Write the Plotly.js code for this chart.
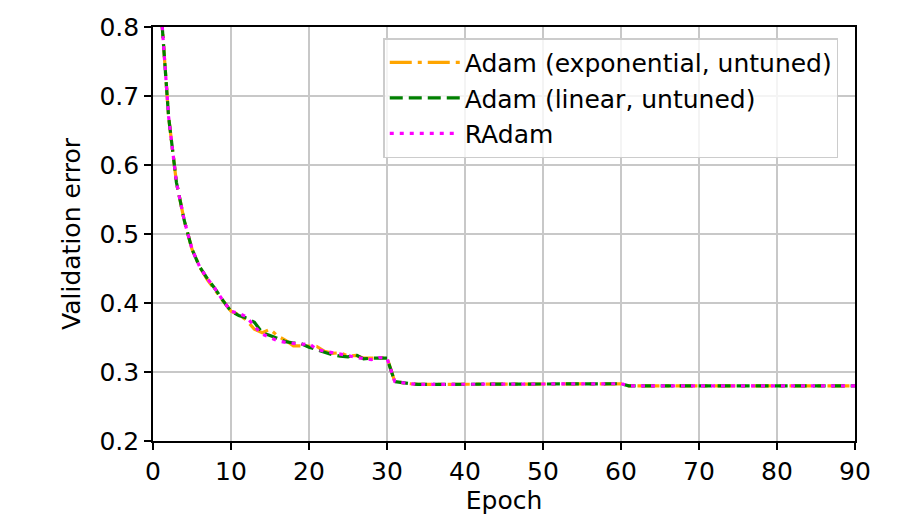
<!DOCTYPE html>
<html>
<head>
<meta charset="utf-8">
<script src="https://cdn.plot.ly/plotly-3.0.1.min.js"></script>
<style>html,body{margin:0;padding:0;background:#fff;}#chart{width:900px;height:525px;}</style>
</head>
<body>
<div id="chart"></div>
<script>
const epochs = [];
for (let i = 1; i <= 90; i++) epochs.push(i);

// epochs 34..60
const flatA = [0.282,0.282,0.282,0.282,0.282,0.282,0.282,0.282,0.282,0.282,0.282,0.282,0.282,0.282,0.282,0.282,0.282,0.282,0.282,0.282,0.282,0.282,0.282,0.282,0.282,0.282,0.283];
// epochs 61..90
const flatB = [0.280,0.280,0.280,0.280,0.280,0.280,0.280,0.280,0.280,0.280,0.280,0.280,0.280,0.280,0.280,0.280,0.280,0.280,0.280,0.280,0.280,0.280,0.280,0.280,0.280,0.280,0.280,0.280,0.280,0.280];

// epochs 1..33
const adamExpHead = [0.83,0.67,0.575,0.52,0.478,0.452,0.433,0.418,0.403,0.388,0.383,0.375,0.362,0.357,0.362,0.352,0.346,0.338,0.338,0.337,0.337,0.330,0.327,0.328,0.323,0.324,0.320,0.320,0.320,0.321,0.286,0.284,0.283];
const adamLinHead = [0.83,0.67,0.575,0.52,0.478,0.452,0.435,0.420,0.403,0.388,0.382,0.378,0.372,0.357,0.353,0.348,0.344,0.342,0.341,0.336,0.332,0.329,0.325,0.323,0.322,0.325,0.319,0.320,0.320,0.320,0.286,0.284,0.283];
const radamHead = [0.83,0.67,0.575,0.52,0.478,0.452,0.435,0.420,0.403,0.388,0.385,0.380,0.366,0.355,0.350,0.345,0.343,0.341,0.340,0.341,0.333,0.330,0.328,0.327,0.324,0.321,0.320,0.318,0.321,0.320,0.286,0.284,0.283];

const adamExp = adamExpHead.concat(flatA, flatB);
const adamLin = adamLinHead.concat(flatA, flatB);
const radam = radamHead.concat(flatA, flatB);

const names = ["Adam (exponential, untuned)", "Adam (linear, untuned)", "RAdam"];

const lw = 3.2;
const traces = [
  {x: epochs, y: adamExp, name: names[0], mode: "lines", line: {color: "orange", dash: "22px,6px,4px,6px", width: lw}},
  {x: epochs, y: adamLin, name: names[1], mode: "lines", line: {color: "green", dash: "13px,6px", width: lw}},
  {x: epochs, y: radam, name: names[2], mode: "lines", line: {color: "magenta", dash: "4px,6px", width: lw}}
];

const fsz = 25;
const axisCommon = {
  showline: true, mirror: true, linecolor: "#000", linewidth: 1.8,
  ticks: "outside", ticklen: 7, tickwidth: 1.6, tickcolor: "#000",
  showgrid: true, gridcolor: "#c8c8c8", gridwidth: 1.5,
  zeroline: false, tickfont: {family: "DejaVu Sans", size: fsz, color: "#000"}
};

const layout = {
  width: 900, height: 525,
  margin: {l: 153, r: 45, t: 27, b: 84},
  paper_bgcolor: "#fff", plot_bgcolor: "#fff",
  font: {family: "DejaVu Sans", color: "#000"},
  showlegend: true,
  legend: {
    x: 0.328, y: 0.973, xanchor: "left", yanchor: "top",
    bgcolor: "rgba(255,255,255,0.8)", bordercolor: "#cccccc", borderwidth: 1.5,
    font: {family: "DejaVu Sans", size: fsz, color: "#000"},
    tracegroupgap: 0, itemwidth: 70
  },
  xaxis: Object.assign({}, axisCommon, {
    range: [0, 90], dtick: 10, tick0: 0,
    title: {text: "Epoch", font: {family: "DejaVu Sans", size: fsz, color: "#000"}, standoff: 6}
  }),
  yaxis: Object.assign({}, axisCommon, {
    range: [0.2, 0.8], dtick: 0.1, tick0: 0.2, tickformat: ".1f",
    title: {text: "Validation error", font: {family: "DejaVu Sans", size: fsz, color: "#000"}, standoff: 12}
  })
};

Plotly.newPlot("chart", traces, layout, {displayModeBar: false, staticPlot: true});
</script>
</body>
</html>
